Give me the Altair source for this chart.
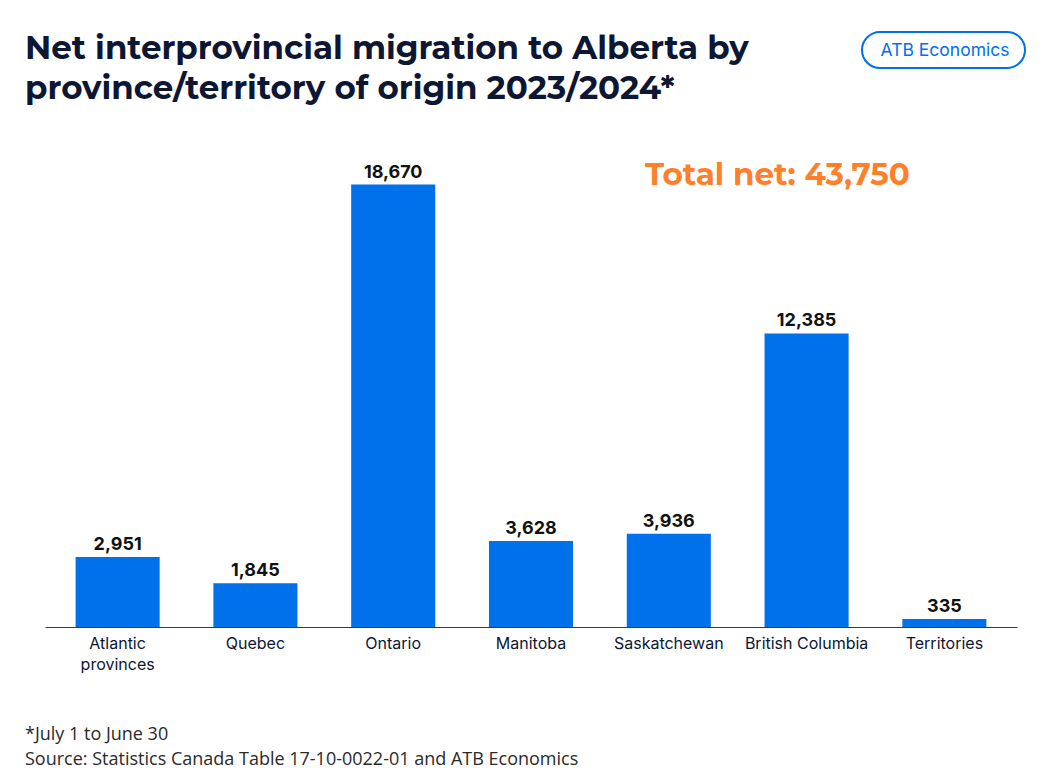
import altair as alt
import pandas as pd

# Net interprovincial migration to Alberta, 2023/2024, by origin
origins = ["Atlantic provinces", "Quebec", "Ontario", "Manitoba",
           "Saskatchewan", "British Columbia", "Territories"]
net_migrants = [2951, 1845, 18670, 3628, 3936, 12385, 335]
total_net = 43750

df = pd.DataFrame({"origin": origins, "net": net_migrants})

BLUE = "#0070EB"
ORANGE = "#FF7F2A"
NAVY = "#0D1633"

W, H = 972, 474

x_enc = alt.X(
    "origin:N", sort=origins, title=None,
    scale=alt.Scale(paddingInner=0.39, paddingOuter=0.222),
    axis=alt.Axis(
        labelAngle=0, ticks=False, domainColor="#3a3a3a", domainWidth=1,
        labelFont="Inter", labelFontSize=16, labelColor=NAVY, labelPadding=8,
        labelExpr="datum.label == 'Atlantic provinces' ? ['Atlantic', 'provinces'] : datum.label",
        labelLineHeight=21,
    ),
)
y_enc = alt.Y("net:Q", axis=None, scale=alt.Scale(domain=[0, 20000], nice=False))

bars = alt.Chart(df).mark_bar(color=BLUE).encode(x=x_enc, y=y_enc)

labels = alt.Chart(df).mark_text(
    baseline="bottom", dy=-3, font="Inter", fontSize=18, fontWeight="bold", color="#111111"
).encode(x=x_enc, y=y_enc, text=alt.Text("net:Q", format=","))

total_text = alt.Chart(pd.DataFrame({"t": [f"Total net: {total_net:,}"]})).mark_text(
    align="left", baseline="middle", font="Montserrat, Lato", fontSize=31,
    fontWeight="bold", color=ORANGE
).encode(x=alt.value(600), y=alt.value(23), text="t:N")

title_lines = pd.DataFrame({
    "line": ["Net interprovincial migration to Alberta by",
             "province/territory of origin 2023/2024*"],
    "ypos": [-94, -54],
})
title = alt.Chart(title_lines).mark_text(
    align="left", baseline="alphabetic", font="Montserrat, Lato", fontSize=32.5,
    fontWeight="bold", color=NAVY
).encode(x=alt.value(-20), y=alt.Y("ypos:Q", scale=None), text="line:N")

badge_box = alt.Chart(pd.DataFrame({"a": [0]})).mark_rect(
    fill="white", stroke=BLUE, strokeWidth=2, cornerRadius=18
).encode(x=alt.value(817), x2=alt.value(980), y=alt.value(-121), y2=alt.value(-85))

badge_text = alt.Chart(pd.DataFrame({"t": ["ATB Economics"]})).mark_text(
    align="center", baseline="middle", font="Inter", fontSize=17.5, color=BLUE
).encode(x=alt.value(900), y=alt.value(-102), text="t:N")

notes = pd.DataFrame({
    "line": ["*July 1 to June 30",
             "Source: Statistics Canada Table 17-10-0022-01 and ATB Economics"],
    "ypos": [587, 612],
})
footnote = alt.Chart(notes).mark_text(
    align="left", baseline="alphabetic", font="Open Sans", fontSize=18, color="#2a2a2a"
).encode(x=alt.value(-20), y=alt.Y("ypos:Q", scale=None), text="line:N")

chart = alt.layer(
    bars, labels, total_text, title, badge_box, badge_text, footnote
).properties(
    width=W, height=H,
    autosize=alt.AutoSizeParams(type="none"),
    padding={"left": 45, "top": 153, "right": 45, "bottom": 154},
).configure(background="white").configure_view(strokeWidth=0)

chart.save("out.html", embed_options={"renderer": "svg", "actions": False})
